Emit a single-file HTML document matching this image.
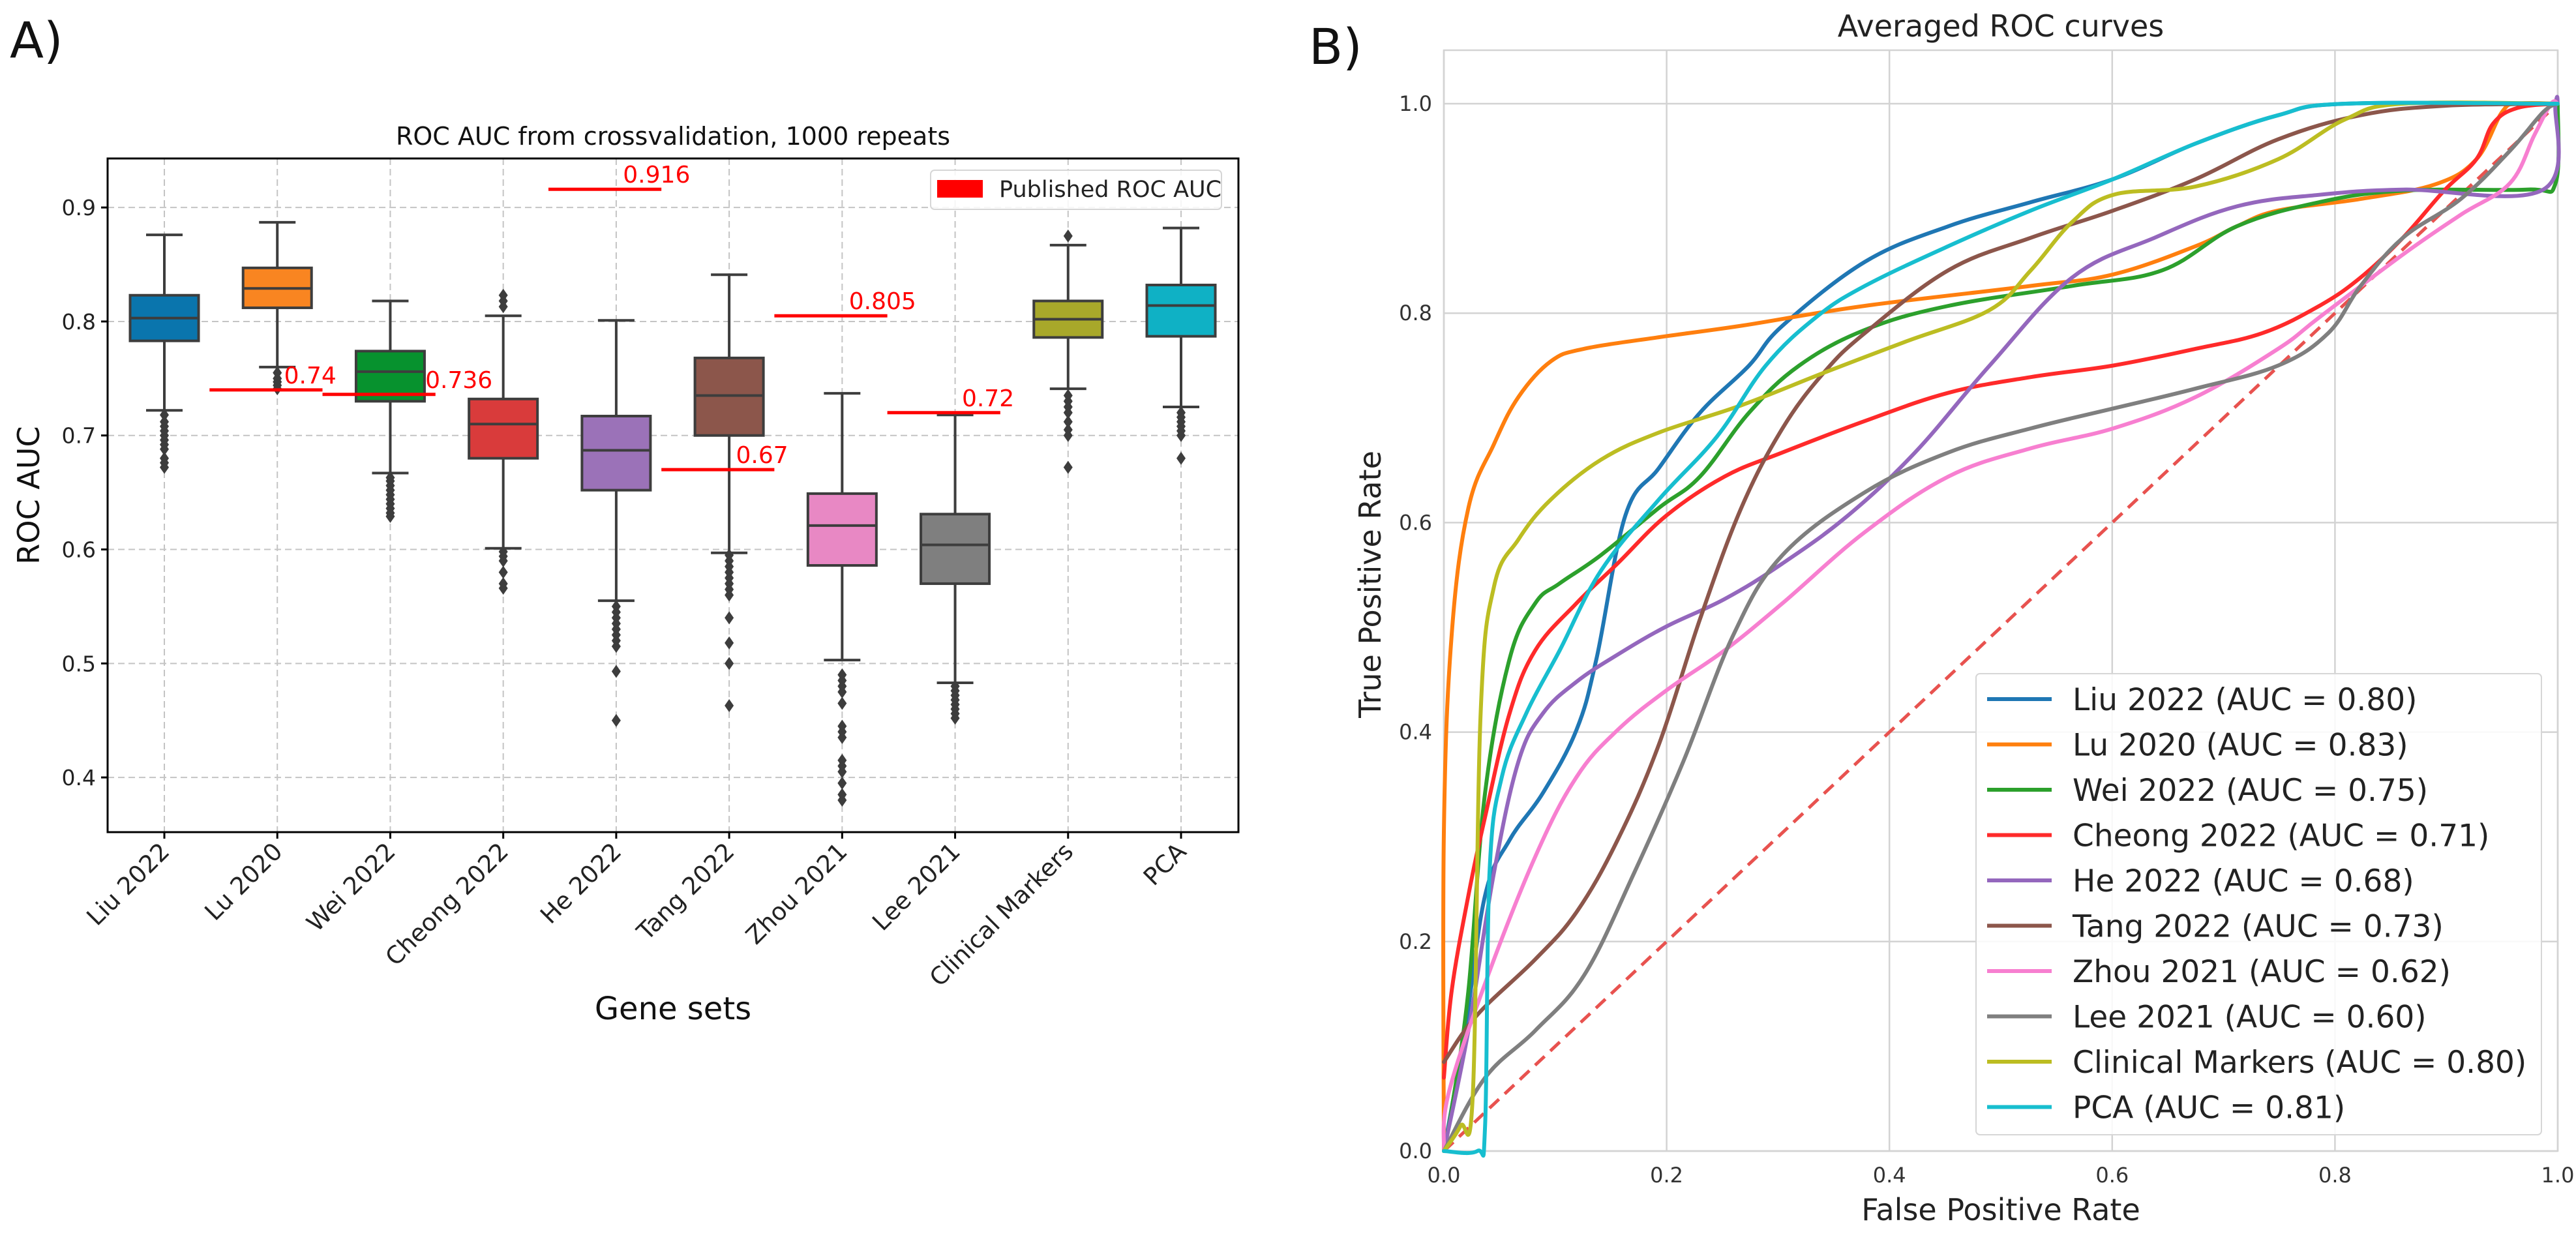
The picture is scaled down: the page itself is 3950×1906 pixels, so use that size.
<!DOCTYPE html>
<html><head><meta charset="utf-8"><style>
html,body{margin:0;padding:0;background:#fff}
svg{display:block;font-family:"DejaVu Sans","Liberation Sans",sans-serif}
</style></head><body>
<svg id="fig" width="3950" height="1906" viewBox="0 0 3950 1906" xmlns="http://www.w3.org/2000/svg">
<rect width="3950" height="1906" fill="#fff"/>
<g id="pa"></g>
<g id="pb"></g>
</svg>
<script>
// ---------- Panel A data ----------
const categories = ["Liu 2022","Lu 2020","Wei 2022","Cheong 2022","He 2022","Tang 2022","Zhou 2021","Lee 2021","Clinical Markers","PCA"];
const boxColors = ["#0a75ad","#f98521","#07922e","#d93b3b","#9b72b8","#8c564b","#e888c4","#7f7f7f","#a8a82a","#0fb1c5"];
const whiskerLow  = [0.722,0.760,0.667,0.601,0.555,0.597,0.503,0.483,0.741,0.725];
const q1          = [0.783,0.812,0.730,0.680,0.652,0.700,0.586,0.570,0.786,0.787];
const medians     = [0.803,0.829,0.756,0.710,0.687,0.735,0.621,0.604,0.802,0.814];
const q3          = [0.823,0.847,0.774,0.732,0.717,0.768,0.649,0.631,0.818,0.832];
const whiskerHigh = [0.876,0.887,0.818,0.805,0.801,0.841,0.737,0.718,0.867,0.882];
const fliers = [
 [0.718,0.712,0.708,0.704,0.700,0.696,0.692,0.688,0.680,0.676,0.672],
 [0.755,0.750,0.747,0.744,0.741],
 [0.663,0.660,0.656,0.652,0.648,0.644,0.640,0.636,0.632,0.629],
 [0.823,0.818,0.813,0.598,0.594,0.590,0.580,0.570,0.566],
 [0.550,0.545,0.540,0.535,0.530,0.525,0.520,0.515,0.493,0.450],
 [0.595,0.590,0.585,0.580,0.575,0.570,0.565,0.560,0.540,0.518,0.500,0.463],
 [0.490,0.485,0.480,0.475,0.465,0.445,0.440,0.435,0.415,0.410,0.405,0.395,0.385,0.380],
 [0.480,0.476,0.472,0.468,0.464,0.460,0.456,0.452],
 [0.875,0.735,0.730,0.725,0.720,0.712,0.705,0.700,0.672],
 [0.720,0.716,0.712,0.708,0.704,0.700,0.680]
];
const publishedIdx = [1,2,4,5,6,7];
const publishedVal = [0.74,0.736,0.916,0.67,0.805,0.72];
const publishedLbl = ["0.74","0.736","0.916","0.67","0.805","0.72"];
const aYTicks = [0.4,0.5,0.6,0.7,0.8,0.9];
const aYTickLbl = ["0.4","0.5","0.6","0.7","0.8","0.9"];

// ---------- Panel B data ----------
const rocNames = ["Liu 2022","Lu 2020","Wei 2022","Cheong 2022","He 2022","Tang 2022","Zhou 2021","Lee 2021","Clinical Markers","PCA"];
const rocAUC = ["0.80","0.83","0.75","0.71","0.68","0.73","0.62","0.60","0.80","0.81"];
const rocColors = ["#1f77b4","#ff7f0e","#2ca02c","#ff2a2a","#9467bd","#8c564b","#f77fd0","#7f7f7f","#bcbd22","#17becf"];
const fprLiu=[0,0.019,0.037,0.059,0.089,0.119,0.137,0.163,0.193,0.23,0.274,0.304,0.378,0.453,0.527,0.601,0.675,0.749,0.81,1];
const tprLiu=[0,0.115,0.244,0.297,0.342,0.402,0.47,0.607,0.652,0.705,0.75,0.788,0.849,0.883,0.906,0.928,0.962,0.989,1,1];
const fprLu=[0,0,0.007,0.022,0.045,0.067,0.096,0.126,0.193,0.267,0.378,0.527,0.601,0.675,0.712,0.749,0.823,0.89,0.927,0.95,0.964,1];
const tprLu=[0,0.304,0.493,0.614,0.675,0.72,0.754,0.766,0.777,0.788,0.807,0.826,0.837,0.864,0.883,0.898,0.909,0.923,0.947,0.992,1,1];
const fprWei=[0,0.007,0.022,0.037,0.059,0.082,0.104,0.141,0.193,0.23,0.274,0.319,0.378,0.453,0.564,0.645,0.712,0.786,0.861,0.972,0.998,1];
const tprWei=[0,0.04,0.153,0.342,0.47,0.523,0.542,0.569,0.614,0.644,0.705,0.75,0.784,0.807,0.826,0.841,0.883,0.906,0.917,0.918,0.924,1];
const fprCheong=[0,0.007,0.022,0.037,0.059,0.082,0.119,0.156,0.2,0.252,0.304,0.378,0.453,0.527,0.601,0.675,0.735,0.786,0.823,0.861,0.898,0.927,0.942,0.964,1];
const tprCheong=[0.07,0.153,0.244,0.319,0.418,0.478,0.523,0.561,0.607,0.644,0.667,0.697,0.724,0.739,0.75,0.766,0.781,0.807,0.834,0.872,0.917,0.947,0.981,0.996,1];
const fprHe=[0,0.022,0.045,0.067,0.089,0.119,0.156,0.2,0.252,0.304,0.363,0.423,0.49,0.564,0.638,0.712,0.786,0.861,0.987,0.998,1];
const tprHe=[0,0.115,0.266,0.372,0.418,0.448,0.474,0.501,0.527,0.561,0.607,0.667,0.75,0.834,0.872,0.902,0.913,0.918,0.918,1,1];
const fprTang=[0,0.03,0.082,0.119,0.156,0.193,0.23,0.267,0.304,0.341,0.378,0.453,0.527,0.601,0.675,0.749,0.823,0.898,1];
const tprTang=[0.085,0.13,0.183,0.228,0.297,0.388,0.508,0.614,0.69,0.743,0.781,0.841,0.872,0.898,0.928,0.966,0.989,0.998,1];
const fprZhou=[0,0.004,0.037,0.082,0.119,0.156,0.2,0.252,0.304,0.378,0.453,0.527,0.601,0.675,0.749,0.786,0.861,0.913,0.957,0.979,0.994,1];
const tprZhou=[0,0.054,0.16,0.281,0.357,0.402,0.44,0.478,0.523,0.591,0.644,0.671,0.69,0.72,0.766,0.796,0.856,0.894,0.924,0.97,1,1];
const fprLee=[0,0.037,0.082,0.126,0.171,0.215,0.26,0.304,0.378,0.453,0.527,0.601,0.675,0.749,0.794,0.823,0.861,0.913,0.957,0.987,1];
const tprLee=[0,0.07,0.115,0.168,0.266,0.372,0.493,0.569,0.629,0.667,0.69,0.709,0.728,0.75,0.781,0.826,0.872,0.909,0.955,0.992,1];
const fprClin=[0,0.015,0.026,0.033,0.045,0.067,0.096,0.141,0.193,0.267,0.341,0.415,0.49,0.527,0.564,0.601,0.675,0.749,0.809,0.861,1];
const tprClin=[0,0.024,0.054,0.418,0.539,0.584,0.622,0.66,0.686,0.712,0.743,0.773,0.803,0.841,0.887,0.913,0.921,0.947,0.985,1,1];
const fprPCA=[0,0.03,0.037,0.041,0.052,0.074,0.104,0.141,0.193,0.245,0.289,0.334,0.378,0.453,0.527,0.601,0.675,0.749,0.809,1];
const tprPCA=[0,0,0.024,0.266,0.357,0.418,0.478,0.554,0.622,0.682,0.75,0.796,0.826,0.864,0.898,0.928,0.962,0.989,1,1];
const rocFpr=[fprLiu,fprLu,fprWei,fprCheong,fprHe,fprTang,fprZhou,fprLee,fprClin,fprPCA];
const rocTpr=[tprLiu,tprLu,tprWei,tprCheong,tprHe,tprTang,tprZhou,tprLee,tprClin,tprPCA];
const bTicks=[0,0.2,0.4,0.6,0.8,1.0];
const bTickLbl=["0.0","0.2","0.4","0.6","0.8","1.0"];

const NS="http://www.w3.org/2000/svg";
function mk(parent,tag,attrs,text){const e=document.createElementNS(NS,tag);for(const k in attrs)e.setAttribute(k,attrs[k]);if(text!==undefined)e.textContent=text;parent.appendChild(e);return e;}

// ---------- Panel A ----------
const pa=document.getElementById('pa');
const AX0=165,AX1=1899,AY0=243,AY1=1276;
const aymin=0.352,aymax=0.943;
const ay=v=>AY1-(v-aymin)/(aymax-aymin)*(AY1-AY0);
const ax=i=>252+i*(1811-252)/9;
const bw=105;
let t=mk(pa,'text',{x:15,y:88,'font-size':76,fill:'#111'},'A)');


t=mk(pa,'text',{x:1032,y:222,'font-size':38,'text-anchor':'middle',fill:'#111'},'ROC AUC from crossvalidation, 1000 repeats');


aYTicks.forEach((v,k)=>{
  let g=mk(pa,'line',{x1:AX0,x2:AX1,y1:ay(v),y2:ay(v),stroke:'#c4c4c4','stroke-width':2,'stroke-dasharray':'10,6'});
  
  
  let tk=mk(pa,'line',{x1:AX0-10,x2:AX0,y1:ay(v),y2:ay(v),stroke:'#000','stroke-width':3});
  
  
  let l=mk(pa,'text',{x:AX0-18,y:ay(v)+12,'font-size':33,'text-anchor':'end',fill:'#222'},aYTickLbl[k]);
  
  
});
categories.forEach((c,i)=>{
  let g=mk(pa,'line',{x1:ax(i),x2:ax(i),y1:AY0,y2:AY1,stroke:'#c4c4c4','stroke-width':2,'stroke-dasharray':'10,6'});
  
  
});
categories.forEach((c,i)=>{
  const x=ax(i);
  const grp=mk(pa,'g',{});
  
  
  const st={stroke:'#3d3d3d','stroke-width':4};
  mk(grp,'line',Object.assign({x1:x,x2:x,y1:ay(whiskerHigh[i]),y2:ay(q3[i])},st));
  mk(grp,'line',Object.assign({x1:x,x2:x,y1:ay(q1[i]),y2:ay(whiskerLow[i])},st));
  mk(grp,'line',Object.assign({x1:x-28,x2:x+28,y1:ay(whiskerHigh[i]),y2:ay(whiskerHigh[i])},st));
  mk(grp,'line',Object.assign({x1:x-28,x2:x+28,y1:ay(whiskerLow[i]),y2:ay(whiskerLow[i])},st));
  mk(grp,'rect',Object.assign({x:x-bw/2,y:ay(q3[i]),width:bw,height:ay(q1[i])-ay(q3[i]),fill:boxColors[i]},st));
  mk(grp,'line',Object.assign({x1:x-bw/2,x2:x+bw/2,y1:ay(medians[i]),y2:ay(medians[i])},st));
  fliers[i].forEach(v=>{
    const y=ay(v);
    const d=mk(grp,'path',{d:`M${x} ${y-10}L${x+7} ${y}L${x} ${y+10}L${x-7} ${y}Z`,fill:'#3d3d3d'});
    
    
  });
  const lx=x+10, ly=AY1+32;
  let l=mk(pa,'text',{x:lx,y:ly,'font-size':37,'text-anchor':'end',fill:'#222',transform:`rotate(-45 ${lx} ${ly})`},c);
  
  
  let tk=mk(pa,'line',{x1:x,x2:x,y1:AY1,y2:AY1+10,stroke:'#000','stroke-width':3});
  
  
});
publishedIdx.forEach((idx,k)=>{
  const y=ay(publishedVal[k]);
  let ln=mk(pa,'line',{x1:ax(idx-0.6),x2:ax(idx+0.4),y1:y,y2:y,stroke:'#ff0000','stroke-width':5});
  
  
  const off = idx===2?0.31:0.06;
  let tx=mk(pa,'text',{x:ax(idx+off),y:y-10,'font-size':36,fill:'#ff0000'},publishedLbl[k]);
  
  
});
let fr=mk(pa,'rect',{x:AX0,y:AY0,width:AX1-AX0,height:AY1-AY0,fill:'none',stroke:'#000','stroke-width':3});


let lg=mk(pa,'g',{});


mk(lg,'rect',{x:1427,y:261,width:446,height:60,rx:6,fill:'#fff','fill-opacity':0.85,stroke:'#d6d6d6','stroke-width':2});
mk(lg,'rect',{x:1437,y:276,width:70,height:27,fill:'#ff0000'});
mk(lg,'text',{x:1532,y:302,'font-size':35,fill:'#222'},'Published ROC AUC');
t=mk(pa,'text',{x:0,y:0,'font-size':46,'text-anchor':'middle',fill:'#111',transform:`translate(60 ${(AY0+AY1)/2}) rotate(-90)`},'ROC AUC');


t=mk(pa,'text',{x:1032,y:1563,'font-size':48,'text-anchor':'middle',fill:'#111'},'Gene sets');



// ---------- Panel B ----------
const pb=document.getElementById('pb');
const BX0=2214,BX1=3922,BY0=77,BY1=1765,BYone=159;
const bx=v=>BX0+v*(BX1-BX0);
const by=v=>BY1-v*(BY1-BYone);
t=mk(pb,'text',{x:2007,y:98,'font-size':76,fill:'#111'},'B)');


t=mk(pb,'text',{x:3068,y:56,'font-size':46,'text-anchor':'middle',fill:'#222'},'Averaged ROC curves');


bTicks.forEach((v,k)=>{
  let g=mk(pb,'line',{x1:BX0,x2:BX1,y1:by(v),y2:by(v),stroke:'#d3d3d3','stroke-width':2.5});
  
  
  g=mk(pb,'line',{x1:bx(v),x2:bx(v),y1:BY0,y2:BY1,stroke:'#d3d3d3','stroke-width':2.5});
  
  
  let l=mk(pb,'text',{x:BX0-18,y:by(v)+11,'font-size':32,'text-anchor':'end',fill:'#333'},bTickLbl[k]);
  
  
  l=mk(pb,'text',{x:bx(v),y:BY1+48,'font-size':32,'text-anchor':'middle',fill:'#333'},bTickLbl[k]);
  
  
});
fr=mk(pb,'rect',{x:BX0,y:BY0,width:BX1-BX0,height:BY1-BY0,fill:'none',stroke:'#d3d3d3','stroke-width':2.5});


let dg=mk(pb,'line',{x1:bx(0),y1:by(0),x2:bx(1),y2:by(1),stroke:'#e8524f','stroke-width':5,'stroke-dasharray':'20,12'});


function smoothPath(P){
  let d=`M${P[0][0].toFixed(1)} ${P[0][1].toFixed(1)}`;
  for(let k=0;k<P.length-1;k++){
    const p0=P[Math.max(k-1,0)],p1=P[k],p2=P[k+1],p3=P[Math.min(k+2,P.length-1)];
    const s=0.18;
    const c1=[p1[0]+(p2[0]-p0[0])*s,p1[1]+(p2[1]-p0[1])*s];
    const c2=[p2[0]-(p3[0]-p1[0])*s,p2[1]-(p3[1]-p1[1])*s];
    d+=`C${c1[0].toFixed(1)} ${c1[1].toFixed(1)} ${c2[0].toFixed(1)} ${c2[1].toFixed(1)} ${p2[0].toFixed(1)} ${p2[1].toFixed(1)}`;
  }
  return d;
}
rocNames.forEach((n,i)=>{
  const P=rocFpr[i].map((f,k)=>[bx(f),by(rocTpr[i][k])]);
  const p=mk(pb,'path',{d:smoothPath(P),fill:'none',stroke:rocColors[i],'stroke-width':6,'stroke-linejoin':'round','stroke-linecap':'round'});
  
  
});
let lb=mk(pb,'g',{});


mk(lb,'rect',{x:3030,y:1033,width:867,height:707,rx:6,fill:'#fff','fill-opacity':0.85,stroke:'#d6d6d6','stroke-width':2});
rocNames.forEach((n,i)=>{
  const y=1072+i*69.5;
  const e=mk(lb,'g',{});
  
  
  mk(e,'line',{x1:3047,x2:3146,y1:y,y2:y,stroke:rocColors[i],'stroke-width':6});
  mk(e,'text',{x:3178,y:y+17,'font-size':47,fill:'#222'},`${n} (AUC = ${rocAUC[i]})`);
});
t=mk(pb,'text',{x:3068,y:1871,'font-size':46,'text-anchor':'middle',fill:'#222'},'False Positive Rate');


t=mk(pb,'text',{x:0,y:0,'font-size':46,'text-anchor':'middle',fill:'#222',transform:`translate(2117 ${(BY0+BY1)/2-25}) rotate(-90)`},'True Positive Rate');


</script>
</body></html>
